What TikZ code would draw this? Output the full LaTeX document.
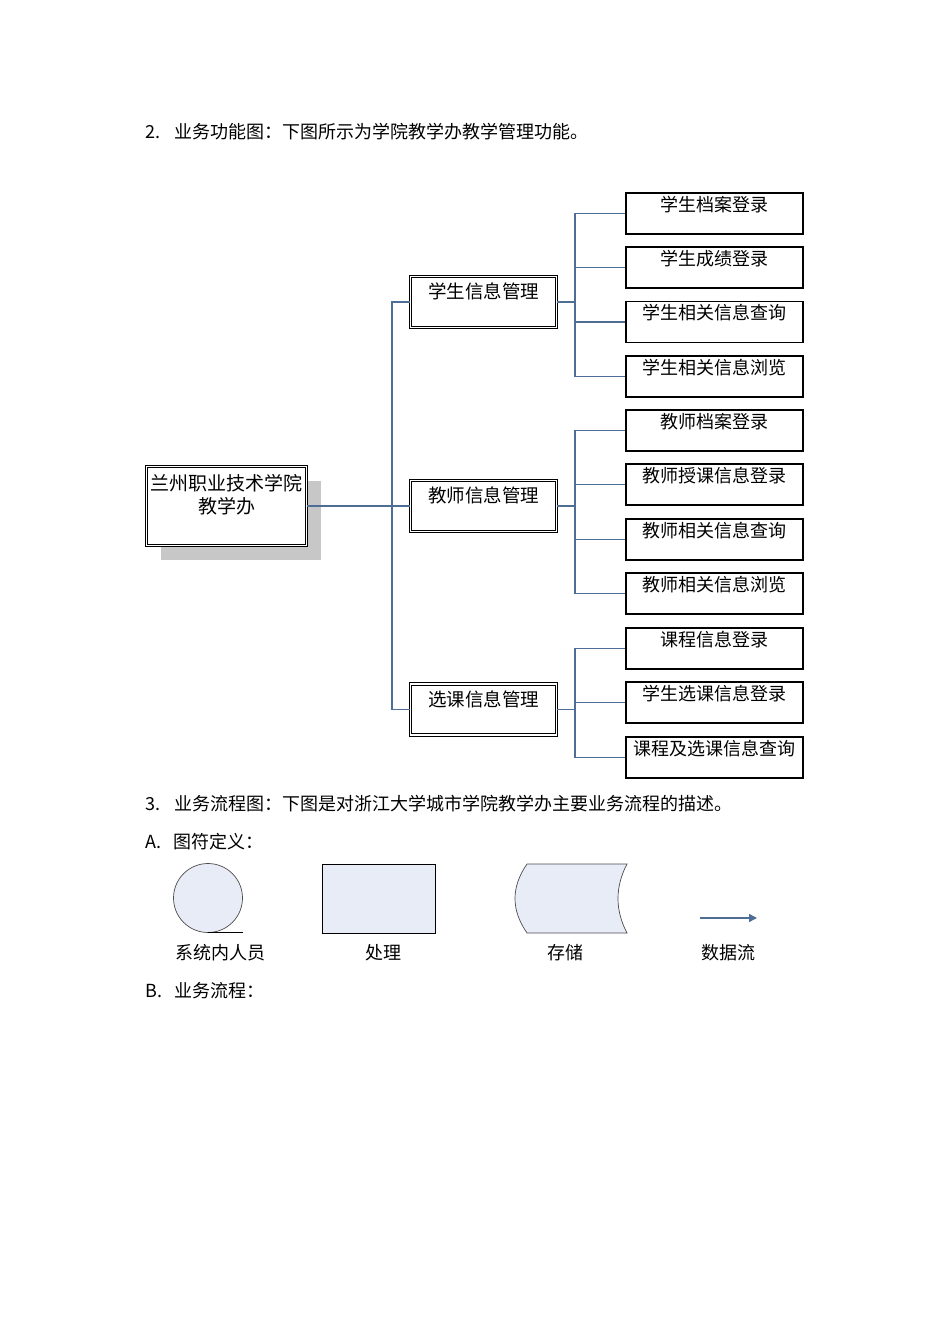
\documentclass[tikz,border=0pt]{standalone}
\usepackage{fontspec}
\setmainfont{Noto Sans CJK SC}
\usetikzlibrary{arrows.meta,shadows}
\definecolor{linkblue}{RGB}{79,110,150}
\definecolor{legfill}{RGB}{232,236,247}
\begin{document}
\begin{tikzpicture}[x=1pt,y=-1pt,
  leaf/.style={rectangle,draw=black,line width=1.2pt,minimum width=177pt,inner xsep=2pt,inner ysep=2.5pt,text height=15.5pt,text depth=20.5pt,font=\fontsize{18}{20}\selectfont},
  mid/.style={rectangle,draw=black,double,double distance=1.6pt,line width=0.9pt,minimum width=146pt,inner ysep=3pt,text height=19pt,text depth=26pt,font=\fontsize{18.5}{21}\selectfont},
  root/.style={rectangle,draw=black,fill=white,double,double distance=1.6pt,line width=0.9pt,minimum width=160pt,minimum height=79pt,drop shadow={shadow xshift=14pt,shadow yshift=-14pt,fill=black!22,opacity=1}},
  link/.style={draw=linkblue,line width=1.3pt},
  sym/.style={draw=black!70,line width=0.7pt,fill=legfill},
  txt/.style={inner sep=0pt,font=\fontsize{18}{20}\selectfont}]
\useasboundingbox (0,0) rectangle (950,1344);
\def\lx{714.5}
\def\mx{483.5}
\def\jx{575}

% headings
\node[txt,anchor=west] (H2) at (145,132) {2.\hspace{14pt}业务功能图：下图所示为学院教学办教学管理功能。};
\node[txt,anchor=west] (H3) at (145,804) {3.\hspace{14pt}业务流程图：下图是对浙江大学城市学院教学办主要业务流程的描述。};
\node[txt,anchor=west] (HA) at (145,842) {A.\hspace{12pt}图符定义：};
\node[txt,anchor=west] (HB) at (145,991) {B.\hspace{12pt}业务流程：};

% function tree
\node[root] (R) at (226.5,506) {};
\node[anchor=north,inner sep=0pt,align=center,font=\fontsize{19}{23}\selectfont,yshift=-8pt] (RT) at (R.north) {兰州职业技术学院\\教学办};

\node[mid] (S) at (\mx,302) {学生信息管理};
\node[mid] (T) at (\mx,506) {教师信息管理};
\node[mid] (C) at (\mx,709.5) {选课信息管理};

\node[leaf] (S1) at (\lx,213.5) {学生档案登录};
\node[leaf] (S2) at (\lx,267.5) {学生成绩登录};
\node[leaf] (S3) at (\lx,322) {学生相关信息查询};
\node[leaf] (S4) at (\lx,376.5) {学生相关信息浏览};
\node[leaf] (T1) at (\lx,430.5) {教师档案登录};
\node[leaf] (T2) at (\lx,484.5) {教师授课信息登录};
\node[leaf] (T3) at (\lx,539.5) {教师相关信息查询};
\node[leaf] (T4) at (\lx,593.5) {教师相关信息浏览};
\node[leaf] (C1) at (\lx,648.5) {课程信息登录};
\node[leaf] (C2) at (\lx,702.5) {学生选课信息登录};
\node[leaf] (C3) at (\lx,757.5) {课程及选课信息查询};

\coordinate (J) at (392,506);
\coordinate (JS) at (\jx,302);
\coordinate (JT) at (\jx,506);
\coordinate (JC) at (\jx,709.5);

\draw[link] (R.east) -- (J);
\draw[link] (S.west) -| (J);
\draw[link] (C.west) -| (J);
\draw[link] (T.west) -- (J);

\draw[link] (S.east) -- (JS);
\draw[link] (JS) |- (S1.west);
\draw[link] (JS) |- (S2.west);
\draw[link] (JS) |- (S3.west);
\draw[link] (JS) |- (S4.west);
\draw[link] (T.east) -- (JT);
\draw[link] (JT) |- (T1.west);
\draw[link] (JT) |- (T2.west);
\draw[link] (JT) |- (T3.west);
\draw[link] (JT) |- (T4.west);
\draw[link] (C.east) -- (JC);
\draw[link] (JC) |- (C1.west);
\draw[link] (JC) |- (C2.west);
\draw[link] (JC) |- (C3.west);

% legend
\node[sym,circle,minimum size=69pt] (P) at (208,898) {};
\draw[black,line width=0.9pt] (P.south) -- ++(35,0);
\node[sym,draw=black,line width=1pt,rectangle,minimum width=113pt,minimum height=69pt] (Q) at (378.5,898.5) {};
\draw[sym] (527,864) -- (627,864) .. controls (615,887) and (615,910) .. (627,933) -- (527,933) .. controls (511,910) and (511,887) .. (527,864) -- cycle;
\coordinate (F1) at (700,918);
\coordinate (F2) at (757,918);
\draw[link,-{Triangle[length=8pt,width=8pt]}] (F1) -- (F2);

\node[txt] (PL) at (220,953) {系统内人员};
\node[txt] (QL) at (383,953) {处理};
\node[txt] (ML) at (565,953) {存储};
\node[txt] (FL) at (728,953) {数据流};
\end{tikzpicture}
\end{document}
